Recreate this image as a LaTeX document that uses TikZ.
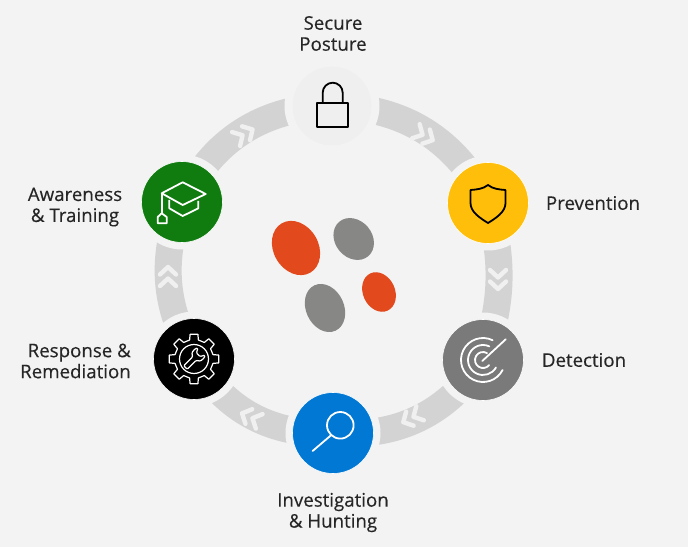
\documentclass[tikz,border=0pt]{standalone}
\usepackage{fontspec}
\setmainfont[FakeBold=0.3]{Open Sans}
\usetikzlibrary{backgrounds,shapes.geometric}
\definecolor{pagebg}{HTML}{F3F3F3}
\definecolor{ringgray}{HTML}{D3D3D3}
\definecolor{chevgray}{HTML}{F0F0F0}
\definecolor{lockbg}{HTML}{EFEFEF}
\definecolor{amber}{HTML}{FFBE0A}
\definecolor{stone}{HTML}{7A7A7A}
\definecolor{azure}{HTML}{0078D4}
\definecolor{leaf}{HTML}{107C10}
\definecolor{ember}{HTML}{E2491C}
\definecolor{pebble}{HTML}{878785}
\begin{document}
\begin{tikzpicture}[
    x=1pt, y=1pt,
    stage/.style={circle, minimum size=81pt, inner sep=0pt, draw=white, line width=0.6pt},
    lbl/.style={font=\fontsize{18.7}{21}\selectfont, text=black!85, align=center, inner sep=0pt},
    ring/.style={line width=27pt, draw=ringgray},
    blob/.style={ellipse, inner sep=0pt},
    icon/.style={line width=1.8pt, line join=round},
    chevrons/.pic={
        \draw[chevgray, line width=4.4pt, line cap=round, line join=round]
            (-8,8) -- (-0.5,0) -- (-8,-8)  (3.5,8) -- (11,0) -- (3.5,-8);
    }
]
    \node[stage, minimum size=78pt, fill=lockbg, draw=lockbg] (secure) at (332,441) {};
    \node[stage, fill=amber] (prevention) at (488,344) {};
    \node[stage, fill=stone] (detection) at (483,187) {};
    \node[stage, fill=azure] (investigation) at (333,114) {};
    \node[stage, fill=black] (response) at (194,188) {};
    \node[stage, fill=leaf] (awareness) at (182,345) {};

    \node[lbl] (lsecure) at (333,513.5) {Secure\\Posture};
    \node[lbl] (lprevention) at (593,344) {Prevention};
    \node[lbl] (ldetection) at (584,187) {Detection};
    \node[lbl] (linvestigation) at (333,34.5) {Investigation\\\& Hunting};
    \node[lbl, align=right, anchor=east] (lresponse) at (131,186) {Response \&\\Remediation};
    \node[lbl] (lawareness) at (75,340) {Awareness\\\& Training};

    \begin{pgfonlayer}{background}
        \fill[pagebg] (0,0) rectangle (688,547);
        \draw[ring] (secure.center) to[bend left=31] (prevention.center);
        \draw[ring] (prevention.center) to[bend left=17] (detection.center);
        \draw[ring] (detection.center) to[bend left=30] (investigation.center);
        \draw[ring] (investigation.center) to[bend left=30] (response.center);
        \draw[ring] (response.center) to[bend left=25] (awareness.center);
        \draw[ring] (awareness.center) to[bend left=31] (secure.center);
        \foreach \n in {secure,prevention,detection,investigation,response,awareness}
            \fill[pagebg] (\n.center) circle (47.5pt);
    \end{pgfonlayer}

    % arrows on the ring
    \pic[rotate=-28] at (423,412) {chevrons};
    \pic[rotate=-90] at (498,269) {chevrons};
    \pic[rotate=208] at (413,130) {chevrons};
    \pic[rotate=155] at (252,129) {chevrons};
    \pic[rotate=90] at (168,269) {chevrons};
    \pic[rotate=30] at (243,412) {chevrons};

    % middle
    \node[blob, fill=ember, minimum width=57pt, minimum height=45pt, rotate=-60] (bigred) at (296,299) {};
    \node[blob, fill=pebble, minimum width=45pt, minimum height=37pt, rotate=-50] (topgray) at (353.7,308) {};
    \node[blob, fill=pebble, minimum width=50pt, minimum height=38pt, rotate=-65] (lowgray) at (325,239) {};
    \node[blob, fill=ember, minimum width=41pt, minimum height=32pt, rotate=-65] (smallred) at (379,255) {};

    % lock
    \begin{scope}[shift={(secure.center)}, icon]
        \draw (-15.3,-20.7) rectangle (16.3,2.7);
        \draw (-9.3,2.7) -- (-9.3,13.3) arc (180:0:10) -- (10.7,2.7);
    \end{scope}
    % shield
    \begin{scope}[shift={(prevention.center)}, icon]
        \draw (0,18) .. controls (-5,14) and (-11,13.5) .. (-17.5,13) -- (-17.5,0)
            .. controls (-17.5,-9) and (-8,-15) .. (0,-20)
            .. controls (8,-15) and (17.5,-9) .. (17.5,0) -- (17.5,13)
            .. controls (11,13.5) and (5,14) .. (0,18) -- cycle;
    \end{scope}
    % target
    \begin{scope}[shift={(detection.center)}, icon, white, line cap=round]
        \draw (64:22) arc (64:333:22);
        \draw (65:15) arc (65:330:15);
        \draw (60:8) arc (60:320:8);
        \draw (-0.7,-1) -- (22.7,20.7);
    \end{scope}
    % magnifier
    \begin{scope}[shift={(investigation.center)}, icon, white, line cap=round]
        \draw (7.3,7.7) circle (13.3);
        \draw (-2,-2.3) -- (-20.4,-18);
    \end{scope}
    % gear and wrench
    \begin{scope}[shift={(response.center)}, icon, white, line width=1.2pt]
        \draw (0,0) circle (14.5);
        \draw (-9:25) \foreach \a in {0,45,...,315} {
            -- (\a-9:25) -- (\a+9:25) -- (\a+13:19.5) -- (\a+32:19.5)
            } -- cycle;
        \begin{scope}[rotate=45, rounded corners=1pt]
            \draw (-12,-2.5) -- (0.5,-2.5) -- (3,-6) -- (8,-6.5) -- (10.5,-5) -- (6,-2.5)
                -- (6,2.5) -- (10.5,5) -- (8,6.5) -- (3,6) -- (0.5,2.5) -- (-12,2.5) -- cycle;
        \end{scope}
    \end{scope}
    % cap
    \begin{scope}[shift={(awareness.center)}, icon, white]
        \draw (0.7,19.7) -- (23.7,8) -- (0.7,-3) -- (-20.3,8.7) -- cycle;
        \draw (-12.7,2) -- (-12.7,-6.3) -- (0.7,-14) -- (16.3,-6.3) -- (16.3,1);
        \draw (-20.3,8.7) -- (-20.3,-11.3);
        \draw (-20.3,-11.3) -- (-15.3,-15) -- (-15.3,-21.3) -- (-24.3,-21.3) -- (-24.3,-15) -- cycle;
    \end{scope}
\end{tikzpicture}
\end{document}
